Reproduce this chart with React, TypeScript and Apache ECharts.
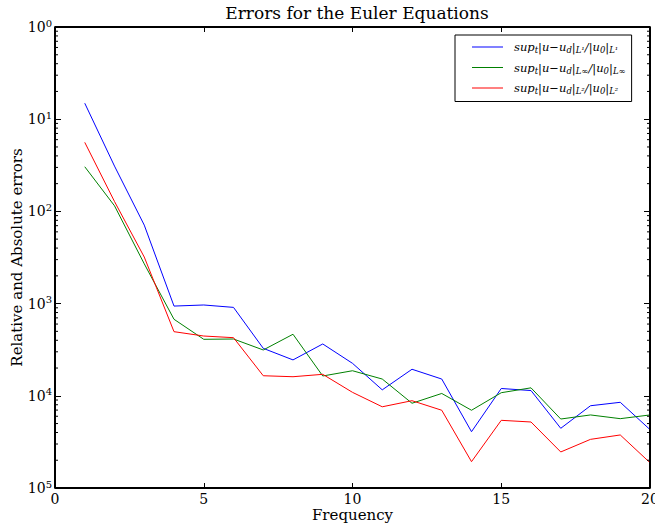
import React, { useEffect, useRef } from "react";
import * as echarts from "echarts";

const frequencies = [1, 2, 3, 4, 5, 6, 7, 8, 9, 10, 11, 12, 13, 14, 15, 16, 17, 18, 19, 20];
const errL1 = [0.149, 0.031, 0.0071, 9.4e-4, 9.66e-4, 9.1e-4, 3.27e-4, 2.45e-4, 3.65e-4, 2.25e-4, 1.16e-4, 1.94e-4, 1.52e-4, 4.08e-5, 1.2e-4, 1.14e-4, 4.44e-5, 7.8e-5, 8.5e-5, 4.3e-5];
const errLinf = [0.0305, 0.0115, 2.7e-3, 6.76e-4, 4.1e-4, 4.13e-4, 3.14e-4, 4.65e-4, 1.64e-4, 1.87e-4, 1.52e-4, 8.3e-5, 1.06e-4, 6.97e-5, 1.08e-4, 1.22e-4, 5.6e-5, 6.2e-5, 5.65e-5, 6.2e-5];
const errL2 = [0.0561, 0.0128, 3.2e-3, 4.96e-4, 4.45e-4, 4.27e-4, 1.65e-4, 1.61e-4, 1.71e-4, 1.09e-4, 7.6e-5, 8.85e-5, 6.97e-5, 1.93e-5, 5.42e-5, 5.2e-5, 2.46e-5, 3.37e-5, 3.76e-5, 1.88e-5];

const seriesNames = ["L1", "Linf", "L2"];
const seriesColors = ["#0000ff", "#008000", "#ff0000"];
const legendLabels: Record<string, string> = {
  L1: "{i|sup}{s|t}{i||u−u}{s|d}{i||}{s|L¹}{i|/|u}{s|0}{i||}{s|L¹}",
  Linf: "{i|sup}{s|t}{i||u−u}{s|d}{i||}{s|L∞}{i|/|u}{s|0}{i||}{s|L∞}",
  L2: "{i|sup}{s|t}{i||u−u}{s|d}{i||}{s|L²}{i|/|u}{s|0}{i||}{s|L²}",
};

const xTicks = { min: 0, max: 20, interval: 5 };
const yRange = { min: 1e-5, max: 1 };
const minorDecades = [-5, -4, -3, -2, -1];
const minorMultipliers = [2, 3, 4, 5, 6, 7, 8, 9];

const FONT = "DejaVu Serif";
const GRID = { left: 55, right: 5, top: 27, bottom: 41 };
const W = 655;
const H = 529;

export default function App() {
  const ref = useRef<HTMLDivElement>(null);
  useEffect(() => {
    document.body.style.margin = "0";
    const chart = echarts.init(ref.current!, null, { renderer: "svg" });
    const minorData: number[][] = [];
    minorDecades.forEach((d) =>
      minorMultipliers.forEach((m) => minorData.push([0, m * Math.pow(10, d)]))
    );
    const mk = (name: string, vals: number[], color: string) => ({
      name,
      type: "line",
      data: frequencies.map((f, i) => [f, vals[i]]),
      showSymbol: false,
      symbol: "none",
      lineStyle: { color, width: 1 },
      itemStyle: { color },
      z: 3,
    });
    const yLabelFormatter = (v: number) =>
      `{b|10}{s|${Math.abs(Math.round(Math.log10(v)))}}`;
    const axisLine = () => ({ show: true, onZero: false, lineStyle: { color: "#000", width: 1.5 } });
    const axisTick = (len: number) => ({ show: true, inside: true, length: len, lineStyle: { color: "#000", width: 1 } });
    const xL = GRID.left;
    const xR = W - GRID.right;
    const yT = GRID.top;
    const yB = H - GRID.bottom;
    const edge = (x1: number, y1: number, x2: number, y2: number) => ({
      type: "line",
      z: 200,
      silent: true,
      shape: { x1, y1, x2, y2 },
      style: { stroke: "#000", lineWidth: 2 },
    });
    chart.setOption({
      animation: false,
      backgroundColor: "#ffffff",
      title: {
        text: "Errors for the Euler Equations",
        left: 352,
        textAlign: "center",
        top: -1,
        textStyle: { fontFamily: FONT, fontSize: 17, fontWeight: "normal", color: "#000" },
      },
      graphic: [
        edge(xL, yT, xR, yT),
        edge(xR, yT, xR, yB),
        edge(xL, yB, xR, yB),
        edge(xL, yT, xL, yB),
      ],
      legend: {
        data: seriesNames,
        left: 455,
        top: 35,
        orient: "vertical",
        itemGap: 7,
        itemWidth: 31,
        itemHeight: 14,
        icon: "path://M0,6.5 L31,6.5 L31,7.5 L0,7.5 Z",
        padding: [6, 6, 6, 17],
        borderColor: "#000",
        borderWidth: 1,
        borderRadius: 0,
        backgroundColor: "#fff",
        formatter: (n: string) => legendLabels[n],
        textStyle: {
          fontFamily: FONT,
          color: "#000",
          padding: [0, 0, 0, 6],
          rich: {
            i: { fontFamily: FONT, fontStyle: "italic", fontSize: 11.5, color: "#000" },
            s: { fontFamily: FONT, fontStyle: "italic", fontSize: 8.5, color: "#000", verticalAlign: "bottom", padding: [6, 0, 0, 0] },
          },
        },
      },
      grid: { ...GRID, containLabel: false, outerBoundsMode: "none", show: false },
      xAxis: [
        {
          type: "value",
          min: xTicks.min,
          max: xTicks.max,
          interval: xTicks.interval,
          name: "Frequency",
          nameLocation: "middle",
          nameGap: 19,
          nameMoveOverlap: false,
          nameTextStyle: { fontFamily: FONT, fontSize: 15, color: "#000" },
          axisLine: axisLine(),
          axisTick: axisTick(5),
          axisLabel: { fontFamily: FONT, fontSize: 14, color: "#000", margin: 4 },
          splitLine: { show: false },
        },
        {
          type: "value",
          position: "top",
          min: xTicks.min,
          max: xTicks.max,
          interval: xTicks.interval,
          axisLine: axisLine(),
          axisTick: axisTick(5),
          axisLabel: { show: false },
          splitLine: { show: false },
        },
      ],
      yAxis: [
        {
          type: "log",
          logBase: 10,
          min: yRange.min,
          max: yRange.max,
          name: "Relative and Absolute errors",
          nameLocation: "middle",
          nameGap: 31,
          nameMoveOverlap: false,
          nameTextStyle: { fontFamily: FONT, fontSize: 15, color: "#000" },
          axisLine: axisLine(),
          axisTick: axisTick(6),
          axisLabel: {
            formatter: yLabelFormatter,
            margin: 3,
            rich: {
              b: { fontFamily: FONT, fontSize: 14, color: "#000" },
              s: { fontFamily: FONT, fontSize: 10, color: "#000", verticalAlign: "top", padding: [0, 0, 8, 0] },
            },
          },
          splitLine: { show: false },
        },
        {
          type: "log",
          logBase: 10,
          position: "right",
          min: yRange.min,
          max: yRange.max,
          axisLine: axisLine(),
          axisTick: axisTick(6),
          axisLabel: { show: false },
          splitLine: { show: false },
        },
      ],
      series: [
        mk("L1", errL1, seriesColors[0]),
        mk("Linf", errLinf, seriesColors[1]),
        mk("L2", errL2, seriesColors[2]),
        {
          type: "custom",
          name: "minorTicks",
          silent: true,
          data: minorData,
          z: 5,
          clip: false,
          renderItem: (params: any, api: any) => {
            const v = api.value(1);
            const pL = api.coord([xTicks.min, v]);
            const pR = api.coord([xTicks.max, v]);
            return {
              type: "group",
              children: [
                { type: "line", shape: { x1: pL[0], y1: pL[1], x2: pL[0] + 3, y2: pL[1] }, style: { stroke: "#000", lineWidth: 1 } },
                { type: "line", shape: { x1: pR[0] - 3, y1: pR[1], x2: pR[0], y2: pR[1] }, style: { stroke: "#000", lineWidth: 1 } },
              ],
            };
          },
        },
      ],
    });
    return () => chart.dispose();
  }, []);
  return <div ref={ref} style={{ position: "absolute", left: 0, top: 0, width: W, height: H }} />;
}
